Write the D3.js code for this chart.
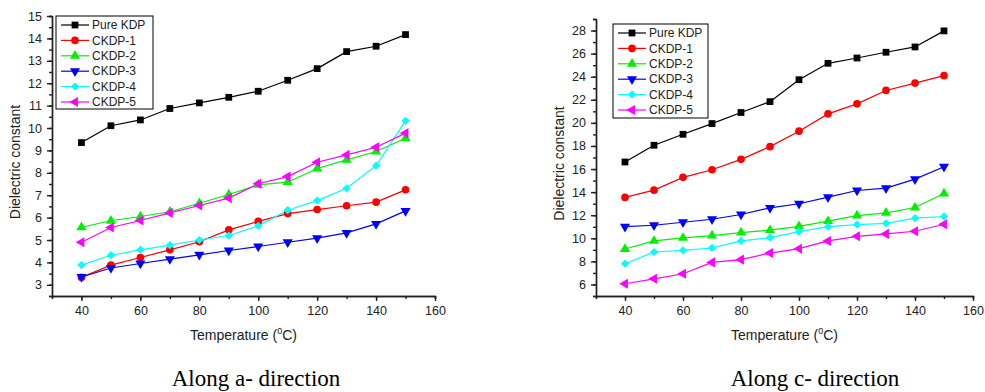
<!DOCTYPE html>
<html lang="en">

<head>
    <meta charset="UTF-8">
    <title>Dielectric constant</title>
    <style>
        body {
            margin: 0;
            background: #fff;
        }

        text {
            font-family: "Liberation Sans", Arial, sans-serif;
            fill: #222;
        }

        .caption {
            font-family: "Liberation Serif", "Times New Roman", serif;
            fill: #000;
        }
    </style>
</head>

<body>
    <div id="wrapper"></div>

    <script src="https://d3js.org/d3.v7.min.js"></script>
    <script>
        // data
        const temps = [40, 50, 60, 70, 80, 90, 100, 110, 120, 130, 140, 150];
        const seriesNames = ["Pure KDP", "CKDP-1", "CKDP-2", "CKDP-3", "CKDP-4", "CKDP-5"];

        // along a- direction
        const aPure = [9.35, 10.1, 10.36, 10.87, 11.12, 11.37, 11.64, 12.13, 12.65, 13.41, 13.65, 14.17];
        const aCkdp1 = [3.33, 3.88, 4.22, 4.56, 4.92, 5.45, 5.83, 6.18, 6.36, 6.53, 6.69, 7.24];
        const aCkdp2 = [5.57, 5.86, 6.05, 6.26, 6.64, 7.03, 7.46, 7.58, 8.19, 8.58, 8.95, 9.54];
        const aCkdp3 = [3.35, 3.75, 3.95, 4.15, 4.34, 4.53, 4.71, 4.9, 5.08, 5.32, 5.72, 6.3];
        const aCkdp4 = [3.88, 4.32, 4.56, 4.77, 5.0, 5.2, 5.63, 6.33, 6.76, 7.31, 8.32, 10.32];
        const aCkdp5 = [4.9, 5.56, 5.87, 6.21, 6.54, 6.87, 7.51, 7.83, 8.47, 8.8, 9.14, 9.77];

        // along c- direction
        const cPure = [16.61, 18.06, 19.01, 19.94, 20.9, 21.84, 23.74, 25.16, 25.62, 26.12, 26.58, 27.97];
        const cCkdp1 = [13.54, 14.17, 15.28, 15.94, 16.84, 17.94, 19.28, 20.78, 21.65, 22.81, 23.45, 24.09];
        const cCkdp2 = [9.07, 9.77, 10.03, 10.23, 10.49, 10.7, 11.04, 11.48, 11.97, 12.2, 12.67, 13.88];
        const cCkdp3 = [11.01, 11.13, 11.39, 11.65, 12.06, 12.64, 12.99, 13.57, 14.14, 14.35, 15.13, 16.2];
        const cCkdp4 = [7.8, 8.81, 8.96, 9.16, 9.77, 10.06, 10.58, 11.01, 11.19, 11.3, 11.74, 11.89];
        const cCkdp5 = [6.06, 6.49, 6.93, 7.91, 8.15, 8.72, 9.1, 9.77, 10.17, 10.38, 10.61, 11.22];

        const xTicks = [40, 60, 80, 100, 120, 140, 160];
        const aYTicks = [3, 4, 5, 6, 7, 8, 9, 10, 11, 12, 13, 14, 15];
        const cYTicks = [6, 8, 10, 12, 14, 16, 18, 20, 22, 24, 26, 28];

        // look of each series: colour + marker
        const colors = ["#000000", "#ff0000", "#00f000", "#0000ff", "#00ffff", "#ff00ff"];
        const markers = [
            { type: d3.symbolSquare, size: 46, rotate: 0 },
            { type: d3.symbolCircle, size: 46, rotate: 0 },
            { type: d3.symbolTriangle, size: 44, rotate: 0 },
            { type: d3.symbolTriangle, size: 44, rotate: 180 },
            { type: d3.symbolSquare, size: 34, rotate: 45 },
            { type: d3.symbolTriangle, size: 44, rotate: -90 }
        ];

        const svgwidth = 985,
            svgheight = 392;

        const svg = d3.select('#wrapper').append('svg')
            .attr('width', svgwidth)
            .attr('height', svgheight);

        function drawPanel(cfg) {
            const xScale = d3.scaleLinear().domain([30, 160]).range([cfg.left, cfg.right]);
            const yScale = d3.scaleLinear().domain(cfg.yDomain).range([cfg.bottom, cfg.top]);

            const g = svg.append('g');

            // minor ticks first (no labels)
            const xMinor = d3.range(30, 161, 10);
            const yMinor = d3.range(cfg.yDomain[0], cfg.yDomain[1] + 0.001, cfg.yMinorStep);

            g.append('g')
                .attr('transform', `translate(0,${cfg.bottom})`)
                .call(d3.axisBottom(xScale).tickValues(xMinor).tickSize(3).tickFormat(''));
            g.append('g')
                .attr('transform', `translate(${cfg.left},0)`)
                .call(d3.axisLeft(yScale).tickValues(yMinor).tickSize(3).tickFormat(''));

            // major ticks + labels
            g.append('g')
                .attr('transform', `translate(0,${cfg.bottom})`)
                .call(d3.axisBottom(xScale).tickValues(xTicks).tickSize(5).tickPadding(5).tickSizeOuter(0))
                .call(a => a.selectAll('text').style('font-size', '12.5px'));
            g.append('g')
                .attr('transform', `translate(${cfg.left},0)`)
                .call(d3.axisLeft(yScale).tickValues(cfg.yTicks).tickSize(5).tickPadding(5).tickSizeOuter(0))
                .call(a => a.selectAll('text').style('font-size', '12.5px'));

            g.selectAll('.domain, .tick line')
                .attr('stroke', '#222')
                .attr('stroke-width', 1.4);

            // lines + markers
            const line = d3.line()
                .x((d, i) => xScale(temps[i]))
                .y(d => yScale(d));

            cfg.series.forEach((vals, k) => {
                g.append('path')
                    .attr('d', line(vals))
                    .attr('fill', 'none')
                    .attr('stroke', colors[k])
                    .attr('stroke-width', 1.2);
            });
            cfg.series.forEach((vals, k) => {
                const m = markers[k];
                g.selectAll(null)
                    .data(vals)
                    .join('path')
                    .attr('d', d3.symbol().type(m.type).size(m.size))
                    .attr('transform', (d, i) => `translate(${xScale(temps[i])},${yScale(d)}) rotate(${m.rotate})`)
                    .attr('fill', colors[k]);
            });

            // legend
            const lg = g.append('g').attr('transform', `translate(${cfg.legend.x},${cfg.legend.y})`);
            lg.append('rect')
                .attr('width', cfg.legend.w)
                .attr('height', cfg.legend.h)
                .attr('fill', '#fff')
                .attr('stroke', '#000')
                .attr('stroke-width', 1);
            seriesNames.forEach((name, k) => {
                const yy = 9 + k * 15.4;
                lg.append('line')
                    .attr('x1', 5).attr('x2', 33)
                    .attr('y1', yy).attr('y2', yy)
                    .attr('stroke', colors[k])
                    .attr('stroke-width', 1.2);
                lg.append('path')
                    .attr('d', d3.symbol().type(markers[k].type).size(markers[k].size))
                    .attr('transform', `translate(19,${yy}) rotate(${markers[k].rotate})`)
                    .attr('fill', colors[k]);
                lg.append('text')
                    .attr('x', 36)
                    .attr('y', yy)
                    .attr('dy', '0.35em')
                    .style('font-size', '12px')
                    .text(name);
            });

            // axis titles
            const xt = g.append('text')
                .attr('x', (cfg.left + cfg.right) / 2)
                .attr('y', 340)
                .attr('text-anchor', 'middle')
                .style('font-size', '14px');
            xt.append('tspan').text('Temperature (');
            xt.append('tspan').attr('dy', -6).style('font-size', '9px').text('0');
            xt.append('tspan').attr('dy', 6).text('C)');

            g.append('text')
                .attr('transform', `translate(${cfg.left - 37},${(cfg.top + cfg.bottom) / 2 + 6}) rotate(-90)`)
                .attr('text-anchor', 'middle')
                .attr('dy', '0.35em')
                .style('font-size', '14px')
                .text('Dielectric constant');

            // caption below
            g.append('text')
                .attr('class', 'caption')
                .attr('x', cfg.captionX)
                .attr('y', 386)
                .attr('text-anchor', 'middle')
                .style('font-size', '23px')
                .text(cfg.caption);
        }

        drawPanel({
            left: 52, right: 435, top: 16, bottom: 296,
            yDomain: [2.5, 15], yTicks: aYTicks, yMinorStep: 0.5,
            series: [aPure, aCkdp1, aCkdp2, aCkdp3, aCkdp4, aCkdp5],
            legend: { x: 56, y: 16, w: 97, h: 93 },
            caption: 'Along a- direction', captionX: 256
        });

        drawPanel({
            left: 596, right: 973, top: 19, bottom: 296,
            yDomain: [5, 29], yTicks: cYTicks, yMinorStep: 1,
            series: [cPure, cCkdp1, cCkdp2, cCkdp3, cCkdp4, cCkdp5],
            legend: { x: 613, y: 24, w: 95, h: 94 },
            caption: 'Along c- direction', captionX: 815
        });
    </script>
</body>

</html>
